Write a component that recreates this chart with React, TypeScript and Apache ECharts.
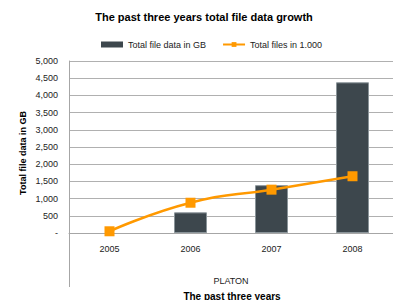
import React, { useEffect, useRef } from "react";
import * as echarts from "echarts";

const categories = ["2005", "2006", "2007", "2008"];
const fileDataGB = [null, 600, 1390, 4380];
const filesThousands = [50, 880, 1260, 1650];
const yTicks = { min: 0, max: 5000, interval: 500 };

const FONT = "Liberation Sans, Arial, sans-serif";

export default function App() {
  const ref = useRef<HTMLDivElement>(null);
  useEffect(() => {
    if (!ref.current) return;
    const chart = echarts.init(ref.current, null, { renderer: "svg" });
    chart.setOption({
      animation: false,
      textStyle: { fontFamily: FONT },
      graphic: [
        {
          type: "text",
          x: 204,
          y: 17,
          style: {
            text: "The past three years total file data growth",
            font: `bold 11px ${FONT}`,
            fill: "#000",
            textAlign: "center",
            textVerticalAlign: "middle",
          },
        },
        {
          type: "text",
          x: 23,
          y: 153,
          rotation: Math.PI / 2,
          style: {
            text: "Total file data in GB",
            font: `bold 9px ${FONT}`,
            fill: "#000",
            textAlign: "center",
            textVerticalAlign: "middle",
          },
        },
        {
          type: "text",
          x: 232,
          y: 296,
          style: {
            text: "The past three years",
            font: `bold 10px ${FONT}`,
            fill: "#000",
            textAlign: "center",
            textVerticalAlign: "middle",
          },
        },
        {
          type: "line",
          shape: { x1: 69.5, y1: 233, x2: 69.5, y2: 287 },
          style: { stroke: "#a6a6a6", lineWidth: 1 },
        },
      ],
      legend: {
        top: 35,
        left: 96,
        itemWidth: 22,
        itemHeight: 6,
        itemGap: 16,
        textStyle: { fontSize: 9, color: "#222", fontFamily: FONT },
        data: [
          { name: "Total file data in GB", icon: "rect", itemStyle: { borderWidth: 0 } },
          { name: "Total files in 1.000" },
        ],
      },
      grid: { left: 69, top: 61, width: 327, height: 172 },
      xAxis: {
        type: "category",
        data: categories,
        name: "PLATON",
        nameLocation: "middle",
        nameGap: 43,
        nameTextStyle: { fontSize: 9, color: "#222", fontFamily: FONT },
        axisLine: { show: true, lineStyle: { color: "#a6a6a6" } },
        axisTick: { show: false },
        axisLabel: { fontSize: 9, color: "#222", margin: 11, fontFamily: FONT },
      },
      yAxis: {
        type: "value",
        min: yTicks.min,
        max: yTicks.max,
        interval: yTicks.interval,
        axisLine: { show: true, lineStyle: { color: "#a6a6a6" } },
        axisTick: { show: false },
        splitLine: { lineStyle: { color: "#b0b0b0", width: 1 } },
        axisLabel: {
          fontSize: 9,
          color: "#222",
          margin: 11,
          fontFamily: FONT,
          formatter: (v: number) => (v === 0 ? "-" : v.toLocaleString("en-US")),
        },
      },
      series: [
        {
          name: "Total file data in GB",
          type: "bar",
          data: fileDataGB,
          barWidth: 33,
          itemStyle: { color: "#3d474d", borderColor: "#8a9499", borderWidth: 1 },
        },
        {
          name: "Total files in 1.000",
          type: "line",
          data: filesThousands,
          smooth: true,
          symbol: "rect",
          symbolSize: 10,
          lineStyle: { color: "#FF9900", width: 2.5 },
          itemStyle: { color: "#FF9900" },
        },
      ],
    });
    return () => chart.dispose();
  }, []);
  return <div ref={ref} style={{ width: 393, height: 300, position: "absolute", left: 0, top: 0 }} />;
}
